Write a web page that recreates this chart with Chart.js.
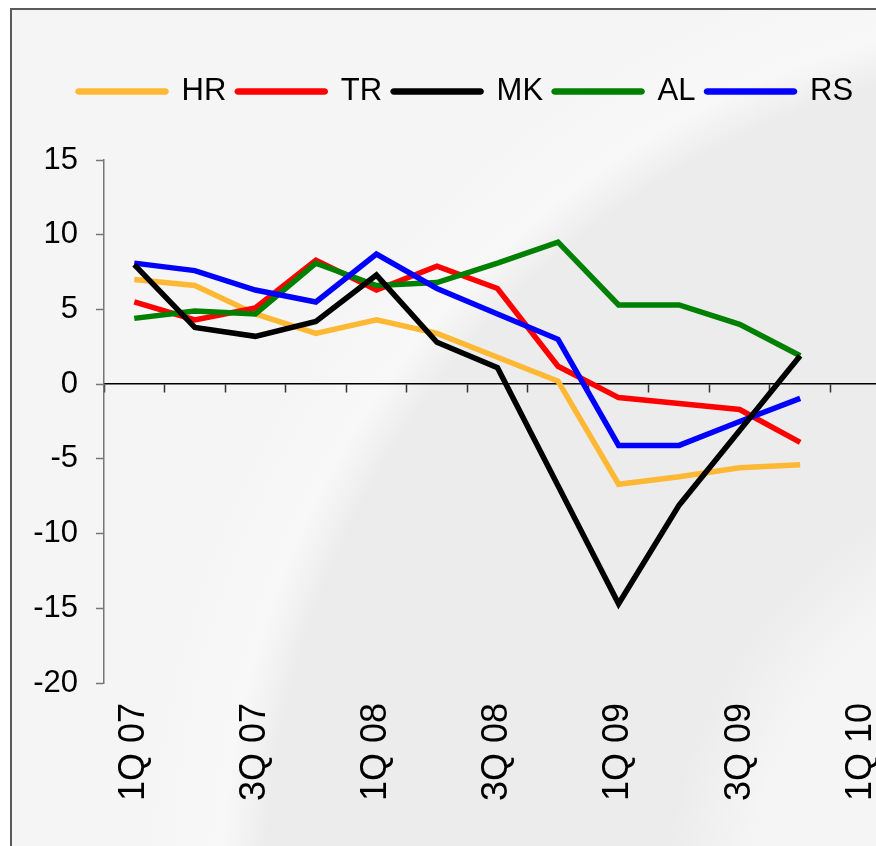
<!DOCTYPE html>
<html>
<head>
<meta charset="utf-8">
<script src="https://cdn.jsdelivr.net/npm/chart.js@4.4.0/dist/chart.umd.min.js"></script>
<style>
  html, body { margin: 0; padding: 0; width: 876px; height: 846px; overflow: hidden; background: #fff; }
  /* cadre gris avec le fond en "vague" */
  #cadre {
    position: absolute; left: 10px; top: 8px; width: 1000px; height: 1000px;
    border: 2px solid #5a5a5a;
    background: radial-gradient(ellipse 870px 880px at 1088px 890px,
      #f5f5f5 0%, #f5f5f5 40%, #ececec 50%, #ececec 96%, #f8f8f8 101%, #f5f5f5 110%);
  }
  #zone { position: absolute; left: 0; top: 0; }
</style>
</head>
<body>
<div id="cadre"></div>
<canvas id="zone" width="900" height="846"></canvas>
<script>
// données
const trimestres = ["1Q 07", "2Q 07", "3Q 07", "4Q 07", "1Q 08", "2Q 08", "3Q 08", "4Q 08", "1Q 09", "2Q 09", "3Q 09", "4Q 09", "1Q 10"];
const serieHR = [7.0, 6.6, 4.7, 3.4, 4.3, 3.4, 1.8, 0.2, -6.7, -6.2, -5.6, -5.4, null];
const serieTR = [5.5, 4.3, 5.1, 8.3, 6.3, 7.9, 6.4, 1.2, -0.9, -1.3, -1.7, -3.9, null];
const serieMK = [8.0, 3.8, 3.2, 4.2, 7.3, 2.8, 1.1, -6.8, -14.7, -8.1, -3.1, 1.9, null];
const serieAL = [4.4, 4.9, 4.7, 8.1, 6.6, 6.8, 8.1, 9.5, 5.3, 5.3, 4.0, 1.9, null];
const serieRS = [8.1, 7.6, 6.3, 5.5, 8.7, 6.4, 4.7, 3.0, -4.1, -4.1, -2.5, -0.95, null];

Chart.defaults.font.family = '"Liberation Sans", Arial, sans-serif';
Chart.defaults.color = "#000";

function serie(nom, valeurs, couleur, ordre) {
  return {
    label: nom,
    data: valeurs,
    borderColor: couleur,
    backgroundColor: couleur,
    borderWidth: 5.5,
    pointRadius: 0,
    tension: 0,
    order: ordre,
    xAxisID: "x",
    yAxisID: "y"
  };
}

// décale la légende vers la droite (le cadre de l'axe y doit rester large)
const decaleLegende = {
  id: "decaleLegende",
  afterLayout: function (chart) {
    chart.legend.left = 67;
  }
};

window.addEventListener("DOMContentLoaded", function () {
  const ctx = document.getElementById("zone").getContext("2d");

  new Chart(ctx, {
    type: "line",
    data: {
      labels: trimestres,
      datasets: [
        serie("HR", serieHR, "#ffb833", 4),
        serie("TR", serieTR, "#ff0000", 3),
        serie("MK", serieMK, "#000000", 0),
        serie("AL", serieAL, "#008000", 2),
        serie("RS", serieRS, "#0000ff", 1)
      ]
    },
    plugins: [decaleLegende],
    options: {
      responsive: false,
      animation: false,
      layout: { padding: { left: 20, right: 9, top: 65, bottom: 0 } },
      plugins: {
        tooltip: { enabled: false },
        legend: {
          position: "top",
          align: "start",
          labels: {
            boxWidth: 88,
            boxHeight: 1,
            padding: 11,
            useBorderRadius: true,
            borderRadius: 1,
            font: { size: 31 },
            sort: function (a, b) { return a.datasetIndex - b.datasetIndex; }
          }
        }
      },
      scales: {
        // axe vide pour laisser de la place sous la légende
        xh: {
          type: "category",
          position: "top",
          grid: { display: false, drawTicks: false },
          border: { display: false },
          ticks: { display: false },
          afterFit: function (s) { s.height = 43; s.paddingLeft = 0; s.paddingRight = 0; }
        },
        x: {
          type: "category",
          position: "bottom",
          offset: true,
          grid: { display: false, drawTicks: false },
          border: { display: false },
          ticks: {
            autoSkip: false,
            minRotation: 90,
            maxRotation: 90,
            padding: 20,
            font: { size: 36 },
            callback: function (val, i) { return i % 2 === 0 ? this.getLabelForValue(val) : ""; }
          },
          afterFit: function (s) { s.height = 163; s.paddingLeft = 0; s.paddingRight = 0; }
        },
        // ligne du zéro avec ses graduations
        x0: {
          type: "category",
          position: { y: 0 },
          offset: true,
          grid: { offset: true, drawOnChartArea: false, tickLength: 8, tickColor: "#333", tickWidth: 1.5 },
          border: { color: "#000", width: 1.5 },
          ticks: { display: false }
        },
        y: {
          min: -20,
          max: 15,
          ticks: { stepSize: 5, padding: 18, font: { size: 31 } },
          grid: { drawOnChartArea: false, tickLength: 8, tickColor: "#777", tickWidth: 1.5 },
          border: { color: "#777", width: 1.5 },
          afterFit: function (s) { s.width = 84; }
        }
      }
    }
  });
});
</script>
</body>
</html>
